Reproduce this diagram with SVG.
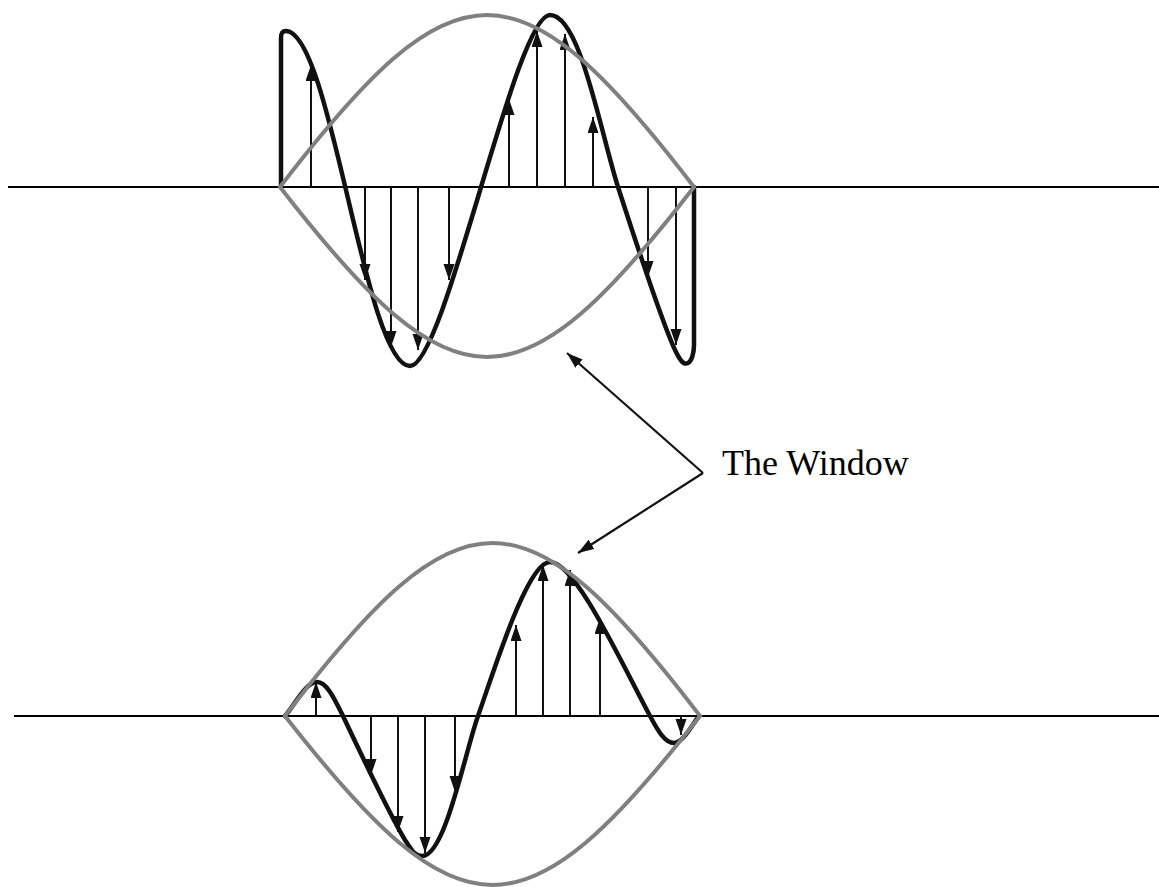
<svg xmlns="http://www.w3.org/2000/svg" width="1159" height="887" viewBox="0 0 1159 887">
<style>
.axis{stroke:#000;stroke-width:2;fill:none}
.wave{stroke:#111;stroke-width:4.5;fill:none;stroke-linejoin:round;stroke-linecap:round}
.win{stroke:#808080;stroke-width:4;fill:none}
.stem{stroke:#111;stroke-width:2;fill:none;marker-end:url(#ah)}
.ptr{stroke:#111;stroke-width:2.2;fill:none;marker-end:url(#ah)}
.lbl{font-family:"Liberation Serif","Times New Roman",serif;font-size:36px;fill:#000}
</style>
<defs>
<marker id="ah" markerUnits="userSpaceOnUse" markerWidth="17" markerHeight="12" refX="16" refY="5.5" orient="auto">
<path d="M0,0 L16,5.5 L0,11 z" fill="#111"/>
</marker>
</defs>
<rect width="1159" height="887" fill="#fff"/>
<g id="top-panel">
<line class="axis" x1="8" y1="187" x2="1159" y2="187"/>
<path class="wave" d="M281,187 L281,38 C281,32 283,31 286,31 C331,31 365,366 410,366 C445,366 515,15 550,15 C580,15 600,130 618,187 C640,255 665,330 676,352 C681,362 684,365 688,363 C692,361 694,352 694,345 L694,187"/>
<g id="top-samples">
<line class="stem" x1="311" y1="187" x2="311" y2="65"/>
<line class="stem" x1="509" y1="187" x2="509" y2="99"/>
<line class="stem" x1="537" y1="187" x2="537" y2="31"/>
<line class="stem" x1="565" y1="187" x2="565" y2="34"/>
<line class="stem" x1="593" y1="187" x2="593" y2="117"/>
<line class="stem" x1="365" y1="187" x2="365" y2="280"/>
<line class="stem" x1="391" y1="187" x2="391" y2="347"/>
<line class="stem" x1="418" y1="187" x2="418" y2="350"/>
<line class="stem" x1="449" y1="187" x2="449" y2="280"/>
<line class="stem" x1="648" y1="187" x2="648" y2="277"/>
<line class="stem" x1="676" y1="187" x2="676" y2="345"/>
</g>
<path class="win" d="M280,187 C455.7,-42.3 518.3,-42.3 694,187 C518.3,413.7 455.7,413.7 280,187 Z"/>
</g>
<g id="bottom-panel">
<line class="axis" x1="14" y1="716" x2="1159" y2="716"/>
<path class="wave" d="M285,716 C296,703 306,682 317,682 C327,682 335,700 343,716 C360,752 390,815 405,840 C412,851 415,856 422,856 C445,857 465,752 478,716 C493,674 527,562 550,562 C575,562 620,660 650,716 C658,731 665,743 674,743 C683,743 692,725 699,716"/>
<g id="bottom-samples">
<line class="stem" x1="316" y1="716" x2="316" y2="682"/>
<line class="stem" x1="516" y1="716" x2="516" y2="625"/>
<line class="stem" x1="543" y1="716" x2="543" y2="565"/>
<line class="stem" x1="570" y1="716" x2="570" y2="570"/>
<line class="stem" x1="600" y1="716" x2="600" y2="618"/>
<line class="stem" x1="371" y1="716" x2="371" y2="775"/>
<line class="stem" x1="398" y1="716" x2="398" y2="832"/>
<line class="stem" x1="425" y1="716" x2="425" y2="853"/>
<line class="stem" x1="455" y1="716" x2="455" y2="792"/>
<line class="stem" x1="681" y1="716" x2="681" y2="735"/>
</g>
<path class="win" d="M285,716 C461,485.3 524,485.3 700,716 C524,941.3 461,941.3 285,716 Z"/>
</g>
<g id="label">
<text class="lbl" x="722" y="475">The Window</text>
</g>
<g id="connectors">
<line class="ptr" x1="703" y1="473" x2="567" y2="353"/>
<line class="ptr" x1="703" y1="473" x2="578" y2="553"/>
</g>
</svg>
